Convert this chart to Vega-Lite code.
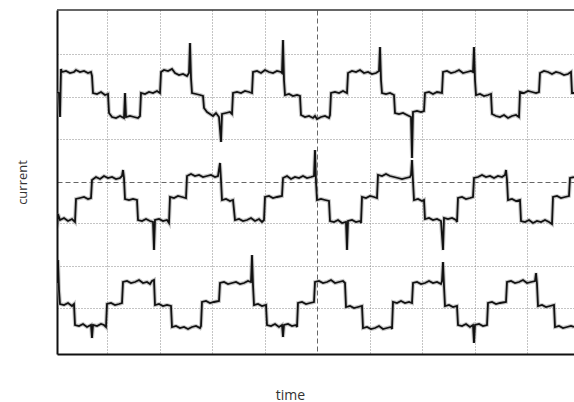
{
  "$schema": "https://vega.github.io/schema/vega-lite/v6.json",
  "width": 517,
  "height": 344,
  "autosize": "none",
  "padding": {"left": 57, "top": 10, "right": 0, "bottom": 48},
  "background": "white",
  "config": {
    "view": {"stroke": null},
    "font": "Open Sans"
  },
  "datasets": {
    "a": [
      {"t":0,"i":262},{"t":2,"i":261},{"t":3,"i":237},{"t":4,"i":285},{"t":5,"i":282},{"t":9,"i":283},{"t":13,"i":281},{"t":17,"i":282},{"t":19,"i":284},{"t":23,"i":282},{"t":27,"i":283},{"t":31,"i":281},{"t":34,"i":282},{"t":35,"i":278},
      {"t":36,"i":261},{"t":40,"i":260},{"t":44,"i":262},{"t":48,"i":259},{"t":51,"i":260},
      {"t":52,"i":241},{"t":55,"i":237},{"t":59,"i":236},{"t":63,"i":238},{"t":67,"i":236},{"t":68,"i":261},{"t":69,"i":237},{"t":73,"i":238},{"t":77,"i":237},{"t":81,"i":236},{"t":83,"i":238},
      {"t":84,"i":261},{"t":88,"i":260},{"t":92,"i":262},{"t":96,"i":261},{"t":100,"i":263},{"t":103,"i":261},
      {"t":104,"i":282},{"t":107,"i":284},{"t":111,"i":283},{"t":115,"i":285},{"t":118,"i":281},{"t":122,"i":279},{"t":126,"i":280},{"t":130,"i":278},{"t":132,"i":281},{"t":133,"i":311},{"t":134,"i":276},
      {"t":135,"i":261},{"t":139,"i":260},{"t":143,"i":259},{"t":146,"i":258},
      {"t":147,"i":246},{"t":150,"i":242},{"t":153,"i":240},{"t":156,"i":238},{"t":159,"i":241},{"t":162,"i":237},{"t":164,"i":212},{"t":165,"i":240},{"t":169,"i":241},{"t":173,"i":242},{"t":175,"i":240},
      {"t":176,"i":261},{"t":180,"i":262},{"t":184,"i":261},{"t":188,"i":263},{"t":192,"i":262},{"t":195,"i":261},
      {"t":196,"i":282},{"t":200,"i":283},{"t":204,"i":281},{"t":208,"i":284},{"t":212,"i":282},{"t":216,"i":281},{"t":220,"i":283},{"t":224,"i":282},{"t":225,"i":281},{"t":226,"i":314},{"t":227,"i":274},
      {"t":228,"i":259},{"t":232,"i":260},{"t":236,"i":258},{"t":240,"i":259},{"t":243,"i":258},
      {"t":244,"i":239},{"t":248,"i":237},{"t":252,"i":238},{"t":256,"i":236},{"t":258,"i":238},{"t":260,"i":235},{"t":264,"i":237},{"t":268,"i":238},{"t":272,"i":236},{"t":273,"i":239},
      {"t":274,"i":261},{"t":278,"i":262},{"t":282,"i":261},{"t":286,"i":263},{"t":290,"i":261},
      {"t":291,"i":281},{"t":295,"i":283},{"t":299,"i":282},{"t":303,"i":284},{"t":307,"i":281},{"t":311,"i":282},{"t":315,"i":280},{"t":319,"i":281},{"t":322,"i":283},{"t":323,"i":307},{"t":324,"i":274},
      {"t":325,"i":261},{"t":329,"i":260},{"t":333,"i":261},{"t":337,"i":259},
      {"t":338,"i":241},{"t":342,"i":240},{"t":346,"i":241},{"t":350,"i":239},{"t":354,"i":237},{"t":355,"i":196},{"t":356,"i":242},{"t":360,"i":243},{"t":364,"i":242},{"t":367,"i":243},
      {"t":368,"i":261},{"t":372,"i":262},{"t":376,"i":260},{"t":380,"i":262},{"t":385,"i":261},
      {"t":386,"i":282},{"t":390,"i":283},{"t":394,"i":281},{"t":398,"i":282},{"t":402,"i":284},{"t":406,"i":281},{"t":410,"i":282},{"t":414,"i":283},{"t":416,"i":282},{"t":417,"i":307},{"t":418,"i":274},
      {"t":419,"i":259},{"t":423,"i":260},{"t":427,"i":258},{"t":431,"i":259},{"t":434,"i":260},
      {"t":435,"i":240},{"t":439,"i":238},{"t":443,"i":237},{"t":447,"i":239},{"t":451,"i":236},{"t":455,"i":238},{"t":459,"i":239},{"t":462,"i":237},
      {"t":463,"i":262},{"t":467,"i":261},{"t":471,"i":263},{"t":475,"i":262},{"t":479,"i":261},{"t":482,"i":262},
      {"t":483,"i":281},{"t":487,"i":283},{"t":491,"i":282},{"t":495,"i":280},{"t":499,"i":282},{"t":503,"i":281},{"t":507,"i":279},{"t":511,"i":280},{"t":514,"i":282},{"t":515,"i":261},{"t":517,"i":261}
    ],
    "b": [
      {"t":0,"i":124},{"t":1,"i":140},{"t":3,"i":134},{"t":7,"i":136},{"t":11,"i":133},{"t":15,"i":135},{"t":18,"i":132},
      {"t":19,"i":155},{"t":23,"i":156},{"t":27,"i":157},{"t":31,"i":155},{"t":34,"i":156},
      {"t":35,"i":174},{"t":39,"i":177},{"t":43,"i":175},{"t":47,"i":178},{"t":51,"i":176},{"t":55,"i":177},{"t":59,"i":175},{"t":63,"i":176},{"t":65,"i":178},{"t":66,"i":184},{"t":67,"i":176},
      {"t":68,"i":155},{"t":72,"i":154},{"t":76,"i":155},{"t":80,"i":154},
      {"t":81,"i":134},{"t":85,"i":133},{"t":89,"i":135},{"t":93,"i":133},{"t":96,"i":132},{"t":97,"i":104},{"t":98,"i":134},{"t":102,"i":135},{"t":106,"i":133},{"t":110,"i":134},{"t":112,"i":131},
      {"t":113,"i":157},{"t":117,"i":156},{"t":121,"i":158},{"t":125,"i":157},{"t":129,"i":156},
      {"t":130,"i":178},{"t":134,"i":180},{"t":138,"i":178},{"t":142,"i":179},{"t":146,"i":177},{"t":150,"i":178},{"t":154,"i":179},{"t":158,"i":177},{"t":161,"i":178},{"t":163,"i":191},{"t":164,"i":174},
      {"t":165,"i":154},{"t":169,"i":155},{"t":173,"i":153},{"t":176,"i":154},
      {"t":178,"i":134},{"t":182,"i":135},{"t":186,"i":133},{"t":190,"i":134},{"t":194,"i":136},{"t":198,"i":133},{"t":202,"i":135},{"t":205,"i":132},{"t":207,"i":134},
      {"t":208,"i":157},{"t":212,"i":158},{"t":216,"i":156},{"t":220,"i":157},{"t":225,"i":158},
      {"t":226,"i":176},{"t":230,"i":178},{"t":234,"i":175},{"t":238,"i":177},{"t":242,"i":176},{"t":246,"i":178},{"t":250,"i":176},{"t":254,"i":177},{"t":257,"i":178},{"t":258,"i":204},{"t":259,"i":172},
      {"t":260,"i":154},{"t":264,"i":155},{"t":268,"i":154},{"t":272,"i":153},
      {"t":273,"i":133},{"t":277,"i":132},{"t":281,"i":134},{"t":285,"i":131},{"t":289,"i":132},{"t":290,"i":104},{"t":291,"i":133},{"t":295,"i":134},{"t":299,"i":132},{"t":303,"i":133},{"t":304,"i":131},
      {"t":305,"i":157},{"t":309,"i":156},{"t":313,"i":158},{"t":317,"i":157},{"t":320,"i":156},
      {"t":321,"i":179},{"t":325,"i":178},{"t":329,"i":180},{"t":333,"i":178},{"t":337,"i":177},{"t":341,"i":176},{"t":345,"i":175},{"t":349,"i":176},{"t":353,"i":177},{"t":354,"i":179},{"t":355,"i":194},{"t":356,"i":173},
      {"t":357,"i":154},{"t":361,"i":155},{"t":365,"i":153},{"t":367,"i":154},
      {"t":368,"i":135},{"t":372,"i":136},{"t":376,"i":134},{"t":380,"i":135},{"t":384,"i":133},{"t":386,"i":104},{"t":387,"i":136},{"t":391,"i":135},{"t":395,"i":136},{"t":399,"i":134},{"t":400,"i":132},
      {"t":401,"i":156},{"t":405,"i":157},{"t":409,"i":155},{"t":413,"i":156},{"t":416,"i":157},
      {"t":417,"i":176},{"t":421,"i":177},{"t":425,"i":179},{"t":429,"i":177},{"t":433,"i":178},{"t":437,"i":176},{"t":441,"i":178},{"t":445,"i":177},{"t":448,"i":179},{"t":449,"i":184},{"t":450,"i":174},
      {"t":451,"i":154},{"t":455,"i":155},{"t":459,"i":153},{"t":463,"i":154},
      {"t":464,"i":133},{"t":468,"i":132},{"t":472,"i":134},{"t":476,"i":131},{"t":480,"i":133},{"t":484,"i":132},{"t":488,"i":134},{"t":492,"i":132},{"t":495,"i":130},
      {"t":496,"i":157},{"t":500,"i":158},{"t":504,"i":156},{"t":508,"i":157},{"t":512,"i":158},
      {"t":513,"i":176},{"t":517,"i":177}
    ],
    "c": [
      {"t":0,"i":71},{"t":1,"i":94},{"t":2,"i":64},{"t":3,"i":50},{"t":7,"i":49},{"t":11,"i":51},{"t":15,"i":48},{"t":17,"i":50},
      {"t":18,"i":29},{"t":22,"i":28},{"t":26,"i":30},{"t":30,"i":27},{"t":34,"i":29},{"t":35,"i":16},{"t":36,"i":29},{"t":40,"i":28},{"t":44,"i":30},{"t":47,"i":29},{"t":49,"i":27},
      {"t":50,"i":50},{"t":54,"i":51},{"t":58,"i":49},{"t":62,"i":50},{"t":65,"i":51},
      {"t":66,"i":72},{"t":70,"i":73},{"t":74,"i":71},{"t":78,"i":72},{"t":82,"i":74},{"t":86,"i":71},{"t":90,"i":72},{"t":93,"i":70},{"t":95,"i":73},{"t":97,"i":74},
      {"t":98,"i":49},{"t":102,"i":50},{"t":106,"i":48},{"t":110,"i":49},{"t":114,"i":48},
      {"t":115,"i":27},{"t":119,"i":28},{"t":123,"i":26},{"t":127,"i":27},{"t":131,"i":25},{"t":135,"i":27},{"t":139,"i":28},{"t":143,"i":26},{"t":144,"i":28},
      {"t":145,"i":52},{"t":149,"i":53},{"t":153,"i":51},{"t":157,"i":52},{"t":162,"i":53},
      {"t":163,"i":71},{"t":167,"i":72},{"t":171,"i":70},{"t":175,"i":71},{"t":179,"i":72},{"t":183,"i":70},{"t":187,"i":71},{"t":191,"i":73},{"t":194,"i":72},{"t":195,"i":99},{"t":196,"i":69},
      {"t":197,"i":49},{"t":201,"i":50},{"t":205,"i":48},{"t":209,"i":49},
      {"t":210,"i":29},{"t":214,"i":28},{"t":218,"i":30},{"t":222,"i":27},{"t":225,"i":29},{"t":226,"i":17},{"t":227,"i":29},{"t":231,"i":30},{"t":235,"i":28},{"t":239,"i":29},{"t":240,"i":27},
      {"t":241,"i":51},{"t":245,"i":52},{"t":249,"i":50},{"t":253,"i":51},{"t":257,"i":52},
      {"t":258,"i":72},{"t":262,"i":73},{"t":266,"i":71},{"t":270,"i":72},{"t":274,"i":74},{"t":278,"i":71},{"t":282,"i":72},{"t":286,"i":73},{"t":288,"i":71},
      {"t":289,"i":47},{"t":293,"i":48},{"t":297,"i":46},{"t":301,"i":47},{"t":305,"i":48},
      {"t":306,"i":26},{"t":310,"i":27},{"t":314,"i":25},{"t":318,"i":26},{"t":322,"i":28},{"t":326,"i":25},{"t":330,"i":26},{"t":334,"i":27},{"t":335,"i":25},
      {"t":336,"i":52},{"t":340,"i":51},{"t":344,"i":53},{"t":348,"i":51},{"t":352,"i":52},{"t":355,"i":51},
      {"t":356,"i":71},{"t":360,"i":72},{"t":364,"i":70},{"t":368,"i":71},{"t":372,"i":73},{"t":376,"i":71},{"t":380,"i":72},{"t":384,"i":70},{"t":385,"i":73},{"t":386,"i":92},{"t":387,"i":68},
      {"t":388,"i":48},{"t":392,"i":49},{"t":396,"i":47},{"t":400,"i":48},
      {"t":401,"i":29},{"t":405,"i":28},{"t":409,"i":30},{"t":413,"i":27},{"t":416,"i":29},{"t":417,"i":11},{"t":418,"i":29},{"t":422,"i":30},{"t":426,"i":28},{"t":430,"i":29},
      {"t":431,"i":51},{"t":435,"i":52},{"t":439,"i":50},{"t":443,"i":51},{"t":449,"i":52},
      {"t":450,"i":72},{"t":454,"i":73},{"t":458,"i":71},{"t":462,"i":72},{"t":466,"i":74},{"t":470,"i":71},{"t":474,"i":72},{"t":478,"i":73},{"t":479,"i":81},{"t":480,"i":70},
      {"t":481,"i":48},{"t":485,"i":49},{"t":489,"i":47},{"t":493,"i":48},{"t":497,"i":49},
      {"t":498,"i":27},{"t":502,"i":28},{"t":506,"i":26},{"t":510,"i":27},{"t":514,"i":28},{"t":517,"i":27}
    ]
  },
  "layer": [
    {
      "data": {"name": "a"},
      "mark": {"type": "line", "color": "#999999", "strokeWidth": 4, "opacity": 0.55, "clip": true},
      "encoding": {
        "x": {
          "field": "t", "type": "quantitative",
          "scale": {"domain": [0, 517], "nice": false, "zero": false},
          "axis": {
            "title": "time", "titleFontSize": 14, "titleFontWeight": "normal", "titleColor": "#333333", "titlePadding": 34, "titleFont": "Open Sans", "titleX": 233,
            "labels": false, "ticks": false,
            "domain": true, "domainColor": "#111111", "domainWidth": 2,
            "grid": true, "values": [50, 102.5, 155, 207.5, 260, 312.5, 365, 417.5, 470],
            "gridColor": {"condition": {"test": "datum.value === 260", "value": "#666666"}, "value": "#888888"},
            "gridDash": {"condition": {"test": "datum.value === 260", "value": [5, 3]}, "value": [1, 2]},
            "gridWidth": 1
          }
        },
        "y": {
          "field": "i", "type": "quantitative",
          "scale": {"domain": [0, 344], "nice": false, "zero": false},
          "axis": {
            "title": "current", "titleFontSize": 13, "titleFontWeight": "normal", "titleColor": "#333333", "titlePadding": 28, "titleFont": "Open Sans",
            "labels": false, "ticks": false,
            "domain": true, "domainColor": "#111111", "domainWidth": 2,
            "grid": true, "values": [46, 88, 131, 172, 215, 257, 300],
            "gridColor": {"condition": {"test": "datum.value === 172", "value": "#666666"}, "value": "#888888"},
            "gridDash": {"condition": {"test": "datum.value === 172", "value": [5, 3]}, "value": [1, 2]},
            "gridWidth": 1
          }
        }
      }
    },
    {
      "data": {"name": "b"},
      "mark": {"type": "line", "color": "#999999", "strokeWidth": 4, "opacity": 0.55, "clip": true},
      "encoding": {
        "x": {"field": "t", "type": "quantitative"},
        "y": {"field": "i", "type": "quantitative"}
      }
    },
    {
      "data": {"name": "c"},
      "mark": {"type": "line", "color": "#999999", "strokeWidth": 4, "opacity": 0.55, "clip": true},
      "encoding": {
        "x": {"field": "t", "type": "quantitative"},
        "y": {"field": "i", "type": "quantitative"}
      }
    },
    {
      "data": {"name": "a"},
      "mark": {"type": "line", "color": "#111111", "strokeWidth": 1.8, "clip": true},
      "encoding": {
        "x": {"field": "t", "type": "quantitative"},
        "y": {"field": "i", "type": "quantitative"}
      }
    },
    {
      "data": {"name": "b"},
      "mark": {"type": "line", "color": "#111111", "strokeWidth": 1.8, "clip": true},
      "encoding": {
        "x": {"field": "t", "type": "quantitative"},
        "y": {"field": "i", "type": "quantitative"}
      }
    },
    {
      "data": {"name": "c"},
      "mark": {"type": "line", "color": "#111111", "strokeWidth": 1.8, "clip": true},
      "encoding": {
        "x": {"field": "t", "type": "quantitative"},
        "y": {"field": "i", "type": "quantitative"}
      }
    },
    {
      "data": {"values": [{"top": 344}]},
      "mark": {"type": "rule", "color": "#333333", "strokeWidth": 1.5},
      "encoding": {"y": {"field": "top", "type": "quantitative"}}
    }
  ]
}
